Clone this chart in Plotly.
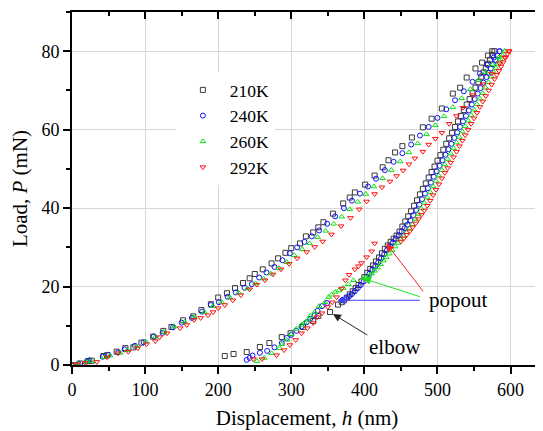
import plotly.graph_objects as go

# ---------------- data ----------------
temps = ["210K", "240K", "260K", "292K"]

h210_load = [0, 11, 22, 27, 43, 48, 61, 73, 84, 95, 111, 125, 136, 152, 166, 177, 190, 200, 212, 223,
             234, 243, 250, 261, 273, 282, 292, 300, 312, 320, 330, 337, 344, 357, 371, 380, 387, 401, 414, 425,
             433, 442, 452, 465, 480, 492, 506, 521, 531, 540, 552, 561, 569, 575]
p210_load = [0, 0.4, 1.0, 1.1, 2.3, 2.5, 3.4, 4.3, 4.5, 5.7, 7.2, 8.7, 9.7, 11.4, 12.4, 14.0, 15.5, 17.2, 18.3, 19.6,
             20.9, 22.1, 23.2, 24.4, 25.9, 27.2, 28.6, 29.8, 31.0, 32.8, 33.8, 35.1, 36.4, 38.6, 41.2, 42.7, 44.0, 46.0, 48.3, 50.4,
             52.2, 54.2, 55.8, 58.0, 60.6, 62.8, 65.4, 69.2, 70.7, 73.3, 75.6, 77.1, 78.9, 80.0]
h210_unload = [578, 575, 572, 569, 566, 563, 560, 556, 552, 548, 544, 540, 536, 532, 528, 524, 520, 516, 512, 508,
               504, 500, 496, 492, 488, 484, 480, 476, 472, 468, 464, 460, 456, 452, 448, 444, 440, 436, 432, 428,
               424, 420, 416, 412, 408, 404, 400, 396, 392, 388, 384, 380, 376, 372, 369, 364, 353, 337, 330, 316,
               299, 287, 270, 257, 239, 221, 209]
p210_unload = [80, 79, 77.8, 76.8, 75.7, 74.6, 73.5, 72.1, 70.7, 69.3, 67.8, 66.4, 65, 63.5, 62.1, 60.7, 59.2, 57.8, 56.4, 54.9,
               53.5, 52.1, 50.6, 49.2, 47.8, 46.3, 44.9, 43.5, 42, 40.6, 39.2, 37.9, 36.6, 35.3, 34, 33, 32.2, 31.4, 30.5, 29.6,
               28.5, 27.4, 26.4, 25.4, 24.5, 23.5, 22.4, 21.3, 20.4, 19.6, 18.8, 18, 17.2, 16.5, 16, 15.4, 13.5, 12.5, 11.2, 9.7,
               8.1, 7.1, 5.6, 4.6, 3.3, 2.8, 2.3]

h240_load = [0, 9, 20, 24, 42, 50, 63, 72, 86, 98, 112, 124, 138, 150, 164, 178, 190, 201, 213, 224,
             236, 246, 256, 266, 277, 288, 298, 308, 318, 328, 338, 349, 360, 372, 383, 394, 405, 416, 428, 440,
             452, 464, 476, 488, 500, 512, 524, 536, 548, 558, 568, 577, 585]
p240_load = [0, 0.3, 0.9, 1.2, 2.1, 2.6, 3.2, 4.0, 4.9, 5.8, 7.3, 8.2, 9.6, 10.8, 12.0, 13.6, 15.3, 16.0, 17.4, 18.5,
             19.7, 20.6, 22.3, 23.6, 25.0, 26.7, 28.5, 30.0, 31.4, 32.8, 34.3, 36.0, 37.9, 40.0, 41.9, 43.7, 45.5, 47.5, 49.7, 51.8,
             54.0, 56.2, 58.5, 60.7, 63.0, 65.2, 67.5, 69.8, 72.2, 74.3, 76.5, 78.4, 80.0]
h240_unload = [585, 582, 579, 576, 573, 570, 567, 563, 559, 555, 551, 547, 543, 539, 535, 531, 527, 523, 519, 515,
               511, 507, 503, 499, 495, 491, 487, 483, 479, 475, 471, 467, 463, 459, 455, 451, 447, 443, 439, 435,
               431, 427, 423, 419, 415, 411, 407, 403, 399, 395, 391, 387, 383, 379, 375, 370,
               349, 342, 336, 332, 326, 321, 314, 307, 300, 294, 287, 277, 267, 257, 247, 243, 239]
p240_unload = [80, 78.9, 77.8, 76.7, 75.6, 74.5, 73.4, 72, 70.6, 69.2, 67.8, 66.4, 64.9, 63.5, 62.1, 60.7, 59.3, 57.9, 56.4, 55,
               53.6, 52.2, 50.8, 49.4, 48, 46.5, 45.1, 43.7, 42.3, 40.9, 39.5, 38.2, 36.9, 35.8, 34.9, 34, 33.1, 32.2, 31.2, 30.3,
               29.3, 28.2, 27.2, 26.2, 25.2, 24.3, 23.3, 22.3, 21.3, 20.4, 19.6, 18.8, 18.1, 17.5, 17, 16.6,
               15.8, 15, 13.8, 12.7, 11.8, 10.9, 9.8, 8.7, 7.7, 6.9, 5.6, 4.5, 3.6, 3.1, 2.4, 1.8, 1.3]

h260_load = [0, 7, 19, 26, 44, 52, 66, 76, 88, 101, 114, 126, 140, 154, 167, 181, 193, 205, 216, 228,
             240, 251, 262, 272, 283, 294, 304, 315, 325, 336, 347, 358, 369, 380, 391, 402, 413, 425, 437, 449,
             461, 473, 485, 497, 509, 521, 533, 545, 556, 566, 575, 584, 592]
p260_load = [0, 0.4, 0.8, 1.0, 2.0, 2.4, 3.1, 3.8, 4.7, 6.0, 7.2, 8.4, 9.8, 11.0, 12.3, 13.5, 15.0, 16.0, 17.2, 18.4,
             19.5, 20.8, 22.0, 23.3, 24.7, 26.2, 28.0, 29.5, 31.0, 32.6, 34.2, 36.0, 37.8, 39.7, 41.6, 43.6, 45.5, 47.6, 49.7, 51.9,
             54.2, 56.5, 58.8, 61.1, 63.4, 65.7, 68.0, 70.3, 72.6, 74.7, 76.6, 78.4, 80.0]
h260_unload = [592, 589, 586, 583, 580, 577, 574, 570, 566, 562, 558, 554, 550, 546, 542, 538, 534, 530, 526, 522,
               518, 514, 510, 506, 502, 498, 494, 490, 486, 482, 478, 474, 470, 466, 462, 458, 454, 450, 446, 442,
               438, 434, 430, 426, 422, 418, 414, 410, 406, 402, 399,
               385, 378, 371, 365, 360, 355, 351, 346, 338, 332, 326, 323, 318, 314, 307, 300, 294, 287, 284, 273, 263, 253]
p260_unload = [80, 79, 77.9, 76.8, 75.7, 74.6, 73.5, 72.1, 70.7, 69.3, 67.9, 66.5, 65.1, 63.7, 62.3, 60.9, 59.5, 58.1, 56.7, 55.3,
               53.9, 52.5, 51.1, 49.7, 48.3, 46.9, 45.5, 44.1, 42.7, 41.3, 39.9, 38.5, 37.2, 35.9, 34.8, 33.8, 32.9, 32, 31.1, 30.2,
               29.3, 28.4, 27.5, 26.6, 25.7, 24.8, 24, 23.3, 22.7, 22.3, 22.1,
               21.6, 20.6, 19.6, 19, 18.6, 17.9, 17.3, 16, 15, 13.5, 12.5, 11.5, 10.8, 10.2, 9.2, 7.8, 6.4, 5.3, 4.3, 3, 1.8, 1]

h292_load = [0, 7, 18, 34, 48, 63, 77, 90, 102, 114, 120, 130, 148, 157, 167, 176, 186, 193, 200, 209,
             220, 231, 243, 253, 264, 275, 286, 297, 308, 321, 332, 343, 355, 368, 381, 393, 403, 414, 424, 435,
             444, 453, 461, 469, 480, 488, 497, 506, 516, 526, 535, 549, 562, 574, 585, 592, 598]
p292_load = [0, 0.2, 0.5, 0.8, 2, 3, 3.4, 4.3, 5.3, 6.1, 7.1, 8.1, 9.4, 10.2, 11.5, 12, 12.7, 13.5, 14.5, 15.3,
             16.5, 17.8, 19.3, 20.5, 21.6, 23.1, 24.4, 25.8, 27.2, 28.8, 30.1, 31.5, 33.3, 35.4, 37.5, 39.7, 41.7, 43.6, 45.3, 46.8,
             48.2, 49.6, 51.2, 52.7, 54.4, 56.2, 57.7, 59.2, 61.5, 63.5, 65.6, 68.8, 71.6, 74.3, 76.9, 78.5, 80]
h292_unload = [598, 596, 593, 590, 587, 584, 581, 578, 574, 570, 566, 562, 558, 554, 550, 546, 542, 538, 534, 530,
               526, 522, 518, 514, 510, 506, 502, 498, 494, 490, 486, 482, 478, 474, 470, 466, 462, 458, 454, 450,
               414, 410, 403, 396, 392, 387, 379, 374, 369, 362, 356, 350, 342, 335, 330, 322, 314, 306, 298, 290,
               280, 260, 248]
p292_unload = [80, 79.3, 78.3, 77.2, 76.1, 75, 74, 72.9, 71.5, 70, 68.6, 67.2, 65.8, 64.3, 62.9, 61.5, 60, 58.6, 57.2, 55.8,
               54.4, 53, 51.6, 50.2, 49, 47.6, 46.1, 44.7, 43.3, 41.9, 40.6, 39.4, 38.3, 37.2, 36.1, 35.1, 34.1, 33.2, 32.3, 31.5,
               31, 29, 27.5, 26, 25.2, 24.4, 23, 21.6, 19.5, 17.3, 16, 14.8, 13.2, 12.2, 10.7, 9.4, 8.1, 6.4, 5.1, 3.8,
               2.5, 1.5, 1.5]

x_ticks = [0, 100, 200, 300, 400, 500, 600]
y_ticks = [0, 20, 40, 60, 80]

# ---------------- figure ----------------
FONT = "Liberation Serif"
series = [
    ("210K", h210_load + h210_unload, p210_load + p210_unload, "square-open", "#3a3a3a"),
    ("240K", h240_load + h240_unload, p240_load + p240_unload, "circle-open", "#1010ff"),
    ("260K", h260_load + h260_unload, p260_load + p260_unload, "triangle-up-open", "#10e010"),
    ("292K", h292_load + h292_unload, p292_load + p292_unload, "triangle-down-open", "#ff1010"),
]

fig = go.Figure()
for name, hx, py, sym, col in series:
    fig.add_trace(go.Scatter(
        x=hx, y=py, mode="markers", name=name,
        marker=dict(symbol=sym, size=5, color=col, line=dict(width=1, color=col)),
    ))

# invisible trace for the mirror axes
fig.add_trace(go.Scatter(x=[0], y=[0], xaxis="x2", yaxis="y2", mode="markers",
                         marker=dict(opacity=0), showlegend=False, hoverinfo="skip"))

XR = [0, 643]
YR = [0, 90]
grid = "#d6d6d6"
TICKFONT = dict(family=FONT, size=18, color="black")
fig.update_layout(
    template="none",
    width=535, height=423,
    margin=dict(l=64, r=1, t=4, b=66, pad=0),
    paper_bgcolor="white", plot_bgcolor="white",
    font=dict(family=FONT, size=18, color="black"),
    showlegend=True,
    legend=dict(x=0.221, y=0.83, xanchor="left", yanchor="top",
                bgcolor="white", borderwidth=0, font=dict(size=17.5, family=FONT, color="black"),
                itemwidth=44, tracegroupgap=0),
    xaxis=dict(range=XR, tickvals=x_ticks, showgrid=True, gridcolor=grid, gridwidth=1,
               zeroline=False, showline=True, linecolor="black", linewidth=2, automargin=False,
               ticks="outside", ticklen=7, tickwidth=1.5, tickcolor="black", tickfont=TICKFONT,
               minor=dict(dtick=50, tick0=0, ticks="outside", ticklen=4, tickwidth=1.5, tickcolor="black", showgrid=False),
               title=dict(text="Displacement, <i>h</i> (nm)", font=dict(size=21, family=FONT, color="black"), standoff=12)),
    yaxis=dict(range=YR, tickvals=y_ticks, showgrid=True, gridcolor=grid, gridwidth=1,
               zeroline=False, showline=True, linecolor="black", linewidth=2, automargin=False,
               ticks="outside", ticklen=7, tickwidth=1.5, tickcolor="black", tickfont=TICKFONT,
               minor=dict(dtick=10, tick0=0, ticks="outside", ticklen=4, tickwidth=1.5, tickcolor="black", showgrid=False),
               title=dict(text="Load, <i>P</i> (mN)", font=dict(size=21, family=FONT, color="black"), standoff=8)),
    xaxis2=dict(range=XR, overlaying="x", side="top", showgrid=False, zeroline=False, automargin=False,
                showline=True, linecolor="black", linewidth=2, tickvals=x_ticks, showticklabels=False,
                ticks="inside", ticklen=7, tickwidth=1.5, tickcolor="black",
                minor=dict(dtick=50, tick0=0, ticks="inside", ticklen=4, tickwidth=1.5, tickcolor="black")),
    yaxis2=dict(range=YR, overlaying="y", side="right", showgrid=False, zeroline=False, automargin=False,
                showline=False, tickvals=y_ticks, showticklabels=False,
                ticks="inside", ticklen=7, tickwidth=1.5, tickcolor="black",
                minor=dict(dtick=10, tick0=0, ticks="inside", ticklen=4, tickwidth=1.5, tickcolor="black")),
)

# arrows: (tail_x, tail_y, head_x, head_y, color)
arrows = [
    (482, 18.4, 430, 31.0, "#ff2020"),
    (478, 17.3, 398, 22.1, "#20e020"),
    (478, 16.5, 363, 16.5, "#4040ff"),
    (406, 7.4, 357, 13.0, "#222222"),
]
for tx, ty, hx, hy, col in arrows:
    fig.add_annotation(x=hx, y=hy, ax=tx, ay=ty, xref="x", yref="y", axref="x", ayref="y",
                       text="", showarrow=True, arrowhead=2, arrowsize=1.6, arrowwidth=1,
                       arrowcolor=col, standoff=0, startstandoff=0)

fig.add_annotation(x=486, y=16.5, xref="x", yref="y", text="popout", showarrow=False,
                   xanchor="left", yanchor="middle", font=dict(size=21, family=FONT, color="black"))
fig.add_annotation(x=404, y=4.6, xref="x", yref="y", text="elbow", showarrow=False,
                   xanchor="left", yanchor="middle", font=dict(size=21, family=FONT, color="black"))

fig.write_html("out.html")
